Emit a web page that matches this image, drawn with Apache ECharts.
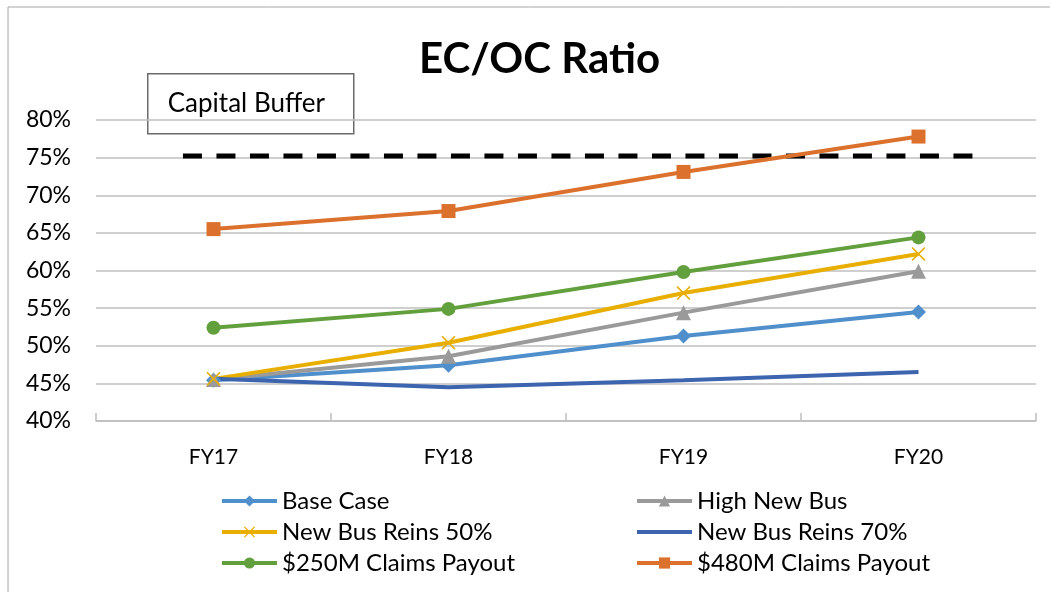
<!DOCTYPE html>
<html>
<head>
<meta charset="utf-8">
<script src="https://cdn.jsdelivr.net/npm/echarts@6/dist/echarts.min.js"></script>
<style>
  html, body { margin: 0; padding: 0; background: #fff; }
  #chart { width: 1050px; height: 592px; }
</style>
</head>
<body>
<div id="chart"></div>
<script>
// data (percent)
const years = ['FY17', 'FY18', 'FY19', 'FY20']
const baseCase = [45.4, 47.4, 51.3, 54.5]
const highNewBus = [45.5, 48.6, 54.4, 59.9]
const reins50 = [45.6, 50.4, 57.0, 62.2]
const reins70 = [45.6, 44.5, 45.4, 46.5]
const claims250 = [52.4, 54.9, 59.8, 64.4]
const claims480 = [65.5, 67.9, 73.1, 77.8]
const yTicks = [40, 80, 5] // min, max, step
// capital buffer dashed line: level and span on the 0..4 helper axis
const bufferLevel = 75.2
const bufferSpan = [0.37, 3.73]

const font = 'Lato'
const chart = echarts.init(document.getElementById('chart'))

const crossPath = 'path://M0,0.8 L0.8,0 L5,4.2 L9.2,0 L10,0.8 L5.8,5 L10,9.2 L9.2,10 L5,5.8 L0.8,10 L0,9.2 L4.2,5 Z'

function line(name, data, color, symbol, size){
  return {
    name: name,
    type: 'line',
    data: data,
    symbol: symbol,
    symbolSize: size,
    showSymbol: symbol !== 'none',
    lineStyle: { color: color, width: 4 },
    itemStyle: symbol === 'none' ? { color: color, opacity: 0 } : { color: color },
    emphasis: { disabled: true },
    z: 3
  }
}

const legendText = { fontFamily: font, fontSize: 24, color: '#000' }

chart.setOption({
  animation: false,
  title: {
    text: 'EC/OC Ratio',
    left: 414,
    top: 33,
    textStyle: { fontFamily: font, fontWeight: 'bold', fontSize: 42, color: '#000' }
  },
  graphic: [
    {
      type: 'rect',
      shape: { x: 8, y: 7, width: 1060, height: 600 },
      style: { fill: 'none', stroke: '#a6a6a6', lineWidth: 1 },
      silent: true
    },
    {
      type: 'group',
      left: 147, top: 73,
      z: 10,
      children: [
        { type: 'rect', shape: { x: 0, y: 0, width: 206, height: 60 },
          style: { fill: '#fff', stroke: '#6b6b6b', lineWidth: 1.5 } },
        { type: 'text', x: 20, y: 30,
          style: { text: 'Capital Buffer', fontFamily: font, fontSize: 26, fill: '#000', verticalAlign: 'middle' } }
      ]
    }
  ],
  legend: [
    {
      left: 220, top: 489, orient: 'vertical', padding: 0,
      itemWidth: 55, itemHeight: 14, itemGap: 7,
      lineStyle: { width: 4 },
      textStyle: legendText,
      data: ['Base Case', 'New Bus Reins 50%', '$250M Claims Payout']
    },
    {
      left: 635, top: 489, orient: 'vertical', padding: 0,
      itemWidth: 55, itemHeight: 14, itemGap: 7,
      lineStyle: { width: 4 },
      textStyle: legendText,
      data: ['High New Bus', 'New Bus Reins 70%', '$480M Claims Payout']
    }
  ],
  grid: { left: 96, right: 14, top: 120, bottom: 171 },
  xAxis: [
    {
      type: 'category',
      data: years,
      boundaryGap: true,
      axisLine: { lineStyle: { color: '#bfbfbf', width: 1.5 } },
      axisTick: { length: 8, lineStyle: { color: '#bfbfbf', width: 1.5 } },
      axisLabel: { fontFamily: font, fontSize: 21, color: '#000', margin: 26 }
    },
    {
      type: 'value',
      min: 0, max: 4, interval: 1,
      position: 'bottom',
      axisLine: { show: false },
      axisTick: { show: true, inside: true, length: 8, lineStyle: { color: '#bfbfbf', width: 1.5 } },
      axisLabel: { show: false },
      splitLine: { show: false }
    }
  ],
  yAxis: {
    type: 'value',
    min: yTicks[0], max: yTicks[1], interval: yTicks[2],
    axisLine: { show: false },
    axisTick: { show: false },
    axisLabel: { fontFamily: font, fontSize: 23, color: '#000', margin: 25, formatter: '{value}%' },
    splitLine: { lineStyle: { color: '#bfbfbf', width: 1.5 } }
  },
  series: [
    {
      name: 'Capital Buffer',
      type: 'line',
      xAxisIndex: 1,
      data: [[bufferSpan[0], bufferLevel], [bufferSpan[1], bufferLevel]],
      symbol: 'none',
      lineStyle: { color: '#000', width: 5, type: [19, 14.5] },
      emphasis: { disabled: true },
      z: 2
    },
    line('Base Case', baseCase, '#4f8fcb', 'diamond', 15),
    line('High New Bus', highNewBus, '#9a9a9a', 'triangle', 15),
    line('New Bus Reins 50%', reins50, '#e8ae00', crossPath, 14),
    line('New Bus Reins 70%', reins70, '#3d64ae', 'none', 0),
    line('$250M Claims Payout', claims250, '#62a03e', 'circle', 14),
    line('$480M Claims Payout', claims480, '#db712c', 'rect', 14)
  ]
})
</script>
</body>
</html>
